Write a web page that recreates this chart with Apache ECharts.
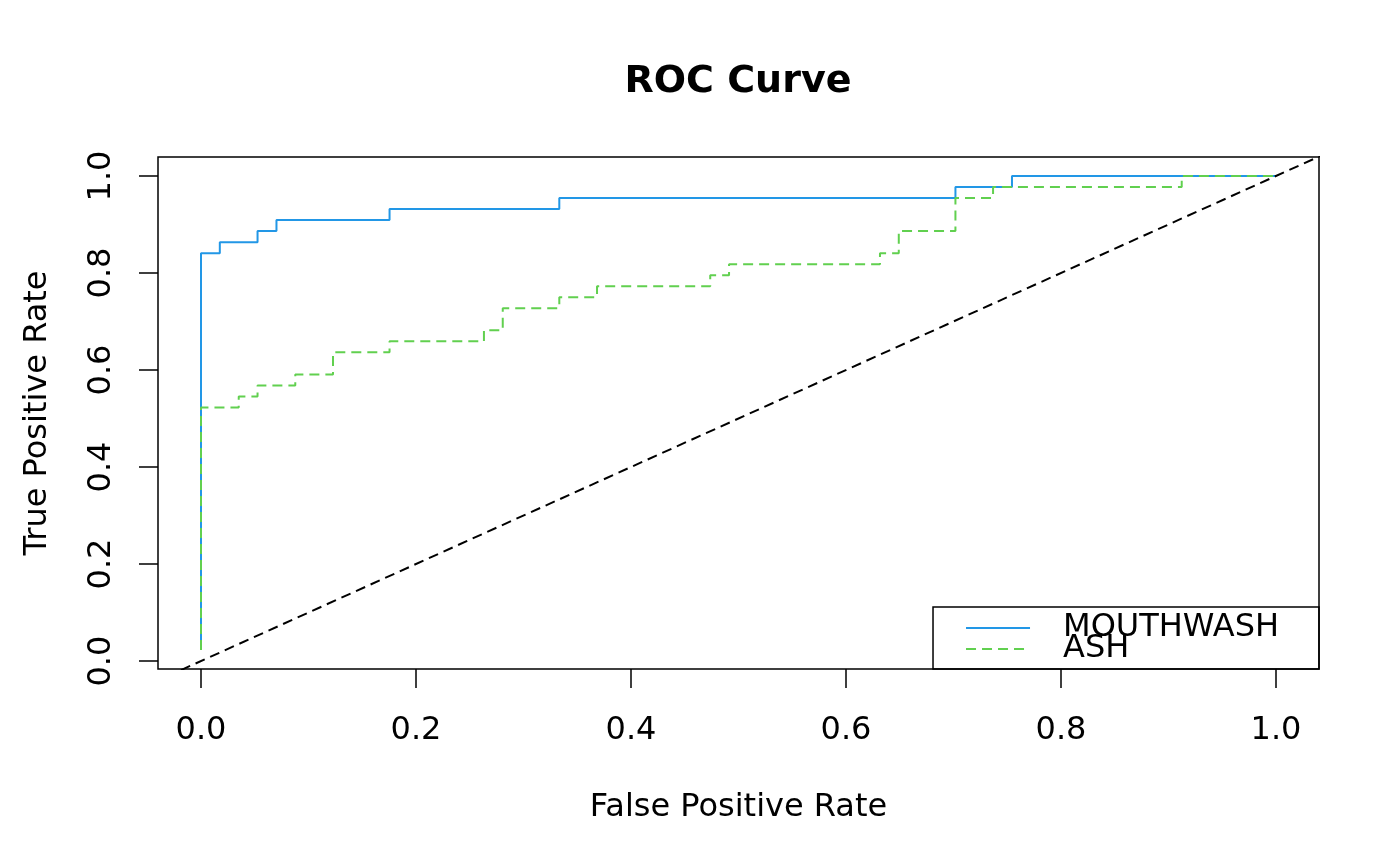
<!DOCTYPE html>
<html>
<head>
<meta charset="utf-8">
<title>ROC Curve</title>
<script src="https://cdn.jsdelivr.net/npm/echarts@6/dist/echarts.min.js"></script>
<style>
    html, body {margin: 0; padding: 0; background: #fff;}
    #main {width: 1400px; height: 866px;}
</style>
</head>
<body>
<div id="main"></div>
<script>
    // ROC points (false positive rate, true positive rate)
    var mouthwashFpr = [0, 0, 0.0175, 0.0526, 0.0702, 0.1754, 0.3333, 0.7018, 0.7544, 1.0];
    var mouthwashTpr = [0.0227, 0.8409, 0.8636, 0.8864, 0.9091, 0.9318, 0.9545, 0.9773, 1.0, 1.0];

    var ashFpr = [0, 0, 0.0351, 0.0526, 0.0877, 0.1228, 0.1754, 0.2632, 0.2807, 0.3333,
        0.3684, 0.4737, 0.4912, 0.6316, 0.6491, 0.7018, 0.7368, 0.9123, 1.0];
    var ashTpr = [0.0227, 0.5227, 0.5455, 0.5682, 0.5909, 0.6364, 0.6591, 0.6818, 0.7273, 0.75,
        0.7727, 0.7955, 0.8182, 0.8409, 0.8864, 0.9545, 0.9773, 1.0, 1.0];

    // reference line y = x, clipped by the plot box
    var diagX = [-0.1, 1.1];
    var diagY = [-0.1, 1.1];

    var tickValues = [0, 0.2, 0.4, 0.6, 0.8, 1.0];

    function pairs(xs, ys) {
        return xs.map(function (x, i) {
            return [x, ys[i]];
        });
    }

    var font = 'DejaVu Sans';
    var chart = echarts.init(document.getElementById('main'));
    chart.setOption({
        animation: false,
        title: {
            text: 'ROC Curve', left: 733, textAlign: 'center', top: 58,
            textStyle: {fontFamily: font, fontSize: 38, fontWeight: 'bold', color: '#000'}
        },
        grid: {
            left: 158, right: 81, top: 157, bottom: 197,
            show: true, borderColor: '#000', borderWidth: 1.5, backgroundColor: 'transparent'
        },
        legend: {
            orient: 'vertical', right: 81, bottom: 197,
            data: ['MOUTHWASH', 'ASH'],
            itemWidth: 64, itemHeight: 22, itemGap: -11,
            padding: [5, 40, 4, 32],
            borderColor: '#000', borderWidth: 1.5,
            itemStyle: {opacity: 0, color: 'rgba(0,0,0,0)', borderWidth: 0},
            textStyle: {fontFamily: font, fontSize: 32, color: '#000', padding: [0, 0, 0, 28]}
        },
        xAxis: {
            type: 'value', min: -0.04, max: 1.04,
            name: 'False Positive Rate', nameLocation: 'middle', nameGap: 123,
            nameTextStyle: {fontFamily: font, fontSize: 32, color: '#000'},
            axisLine: {show: false, onZero: false},
            axisTick: {show: true, inside: false, length: 19, customValues: tickValues,
                lineStyle: {color: '#000', width: 1.5}},
            axisLabel: {margin: 46, customValues: tickValues, fontFamily: font, fontSize: 32, color: '#000',
                formatter: function (v) { return v.toFixed(1); }},
            splitLine: {show: false}
        },
        yAxis: {
            type: 'value', min: -0.0164, max: 1.0391,
            name: 'True Positive Rate', nameLocation: 'middle', nameGap: 104,
            nameTextStyle: {fontFamily: font, fontSize: 32, color: '#000'},
            axisLine: {show: false, onZero: false},
            axisTick: {show: true, inside: false, length: 19, customValues: tickValues,
                lineStyle: {color: '#000', width: 1.5}},
            axisLabel: {margin: 40, rotate: 90, customValues: tickValues, fontFamily: font, fontSize: 32, color: '#000',
                formatter: function (v) { return v.toFixed(1); }},
            splitLine: {show: false}
        },
        series: [
            {
                name: 'MOUTHWASH', type: 'line', step: 'end',
                symbol: 'none', clip: true,
                lineStyle: {color: '#2297E6', width: 2},
                itemStyle: {color: '#2297E6'},
                data: pairs(mouthwashFpr, mouthwashTpr)
            },
            {
                name: 'ASH', type: 'line', step: 'end',
                symbol: 'none', clip: true,
                lineStyle: {color: '#61D04F', width: 2, type: [10, 6]},
                itemStyle: {color: '#61D04F'},
                data: pairs(ashFpr, ashTpr)
            },
            {
                name: 'diagonal', type: 'line',
                symbol: 'none', clip: true, silent: true,
                lineStyle: {color: '#000', width: 2, type: [10, 6]},
                data: pairs(diagX, diagY)
            }
        ]
    });
</script>
</body>
</html>
